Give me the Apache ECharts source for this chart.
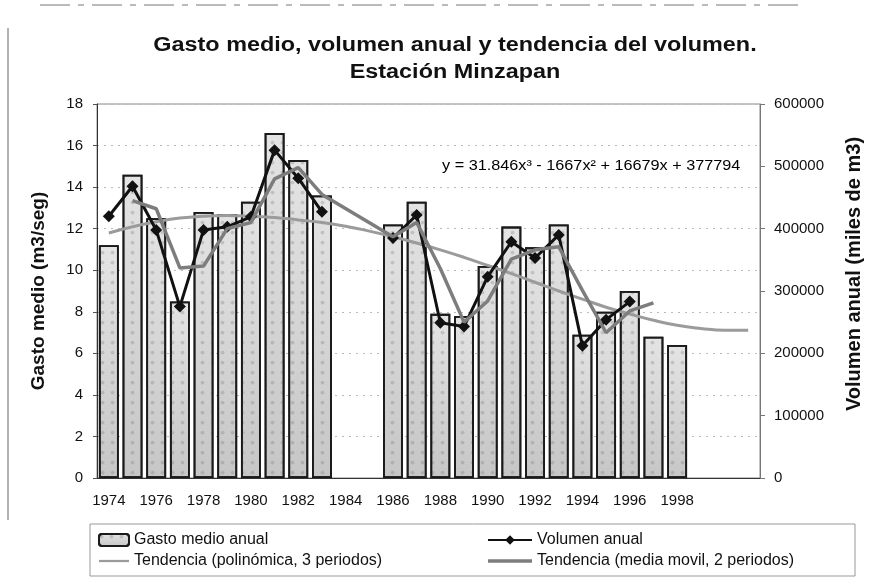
<!DOCTYPE html>
<html>
<head>
<meta charset="utf-8">
<script src="https://cdn.jsdelivr.net/npm/echarts@6/dist/echarts.min.js"></script>
<style>
  html, body { margin: 0; padding: 0; background: #fff; }
  #chart { width: 885px; height: 586px; }
</style>
</head>
<body>
<div id="chart"></div>
<script>
var dom = document.getElementById("chart");
var myChart = echarts.init(dom);

// years 1974..2001 (the polynomial trend runs 3 periods past the data)
var years = ['1974', '1975', '1976', '1977', '1978', '1979', '1980', '1981', '1982', '1983',
    '1984', '1985', '1986', '1987', '1988', '1989', '1990', '1991', '1992', '1993',
    '1994', '1995', '1996', '1997', '1998', '1999', '2000', '2001'];

// Gasto medio anual (m3/seg)
var gastoMedio = [11.2, 14.6, 12.5, 8.5, 12.8, 12.7, 13.3, 16.6, 15.3, 13.6,
    null, null, 12.2, 13.3, 7.9, 7.8, 10.2, 12.1, 11.1, 12.2,
    6.9, 8.0, 9.0, 6.8, 6.4, null, null, null];

// Volumen anual (miles de m3)
var volumen = [420000, 468000, 398000, 275000, 398000, 403000, 419000, 526000, 481000, 427000,
    null, null, 385000, 422000, 249000, 243000, 323000, 379000, 353000, 390000,
    212000, 254000, 283000, null, null, null, null, null];

// Tendencia (media movil, 2 periodos)
var mediaMovil = [null, 445000, 432000, 337000, 340000, 400000, 410000, 480000, 498000, 455000,
    null, null, 387000, 410000, 336000, 250000, 284000, 351000, 366000, 371000,
    301000, 233000, 268000, 281000, null, null, null, null];

// Tendencia (polinomica, 3 periodos)
var tendPoli = [393000, 403000, 411000, 417000, 420000, 421000, 420000, 418000, 414000, 410000,
    404000, 396000, 387000, 377000, 366000, 354000, 341000, 328000, 314000, 300000,
    287000, 274000, 263000, 253000, 245000, 240000, 237000, 237000];

var leftTicks = { min: 0, max: 18, interval: 2 };
var rightTicks = { min: 0, max: 600000, interval: 100000 };

var FONT = '"Liberation Sans", Arial, sans-serif';
var lineIcon = 'path://M0,0 L40,0 L40,3 L0,3 Z';

var option = {
    animation: false,
    backgroundColor: '#fff',
    legend: [{
        data: [
            { name: 'Gasto medio anual' },
            { name: 'Tendencia (polinómica, 3 periodos)', icon: lineIcon, itemStyle: { color: '#9b9b9b' } }
        ],
        orient: 'vertical',
        left: 93,
        top: 527,
        itemGap: 5,
        itemWidth: 30,
        itemHeight: 12,
        textStyle: { fontFamily: FONT, fontSize: 16, color: '#111' }
    }, {
        data: [
            { name: 'Volumen anual' },
            { name: 'Tendencia (media movil, 2 periodos)', icon: lineIcon, itemStyle: { color: '#7d7d7d' } }
        ],
        orient: 'vertical',
        left: 482,
        top: 527,
        itemGap: 5,
        itemWidth: 44,
        itemHeight: 12,
        textStyle: { fontFamily: FONT, fontSize: 16, color: '#111' }
    }],
    grid: {
        left: 97,
        right: 125,
        top: 104,
        bottom: 108,
        show: true,
        borderColor: '#888',
        borderWidth: 1
    },
    xAxis: {
        type: 'category',
        data: years,
        axisLine: { lineStyle: { color: '#333', width: 1 } },
        axisTick: { interval: 0, length: 4, lineStyle: { color: '#555' } },
        axisLabel: {
            interval: 1,
            margin: 15,
            fontFamily: FONT,
            fontSize: 15,
            color: '#111',
            formatter: function (v) { return +v <= 1998 ? v : ''; }
        }
    },
    yAxis: [{
        type: 'value',
        min: leftTicks.min,
        max: leftTicks.max,
        interval: leftTicks.interval,
        name: 'Gasto medio (m3/seg)',
        nameLocation: 'middle',
        nameGap: 49,
        nameTextStyle: { fontFamily: FONT, fontSize: 19, fontWeight: 'bold', color: '#111' },
        axisLine: { show: true, lineStyle: { color: '#333' } },
        axisTick: { show: true, inside: false, length: 4, lineStyle: { color: '#555' } },
        axisLabel: { margin: 14, fontFamily: FONT, fontSize: 15, color: '#111' },
        splitLine: { show: true, lineStyle: { color: '#bbb', type: [2, 5] } }
    }, {
        type: 'value',
        position: 'right',
        min: rightTicks.min,
        max: rightTicks.max,
        interval: rightTicks.interval,
        name: 'Volumen anual (miles de m3)',
        nameLocation: 'middle',
        nameRotate: 90,
        nameGap: 84,
        nameTextStyle: {
            fontFamily: FONT, fontSize: 20, fontWeight: 'bold', color: '#111',
            padding: [0, 0, 0, 34]
        },
        axisLine: { show: true, lineStyle: { color: '#777' } },
        axisTick: { show: true, length: 5, lineStyle: { color: '#777' } },
        axisLabel: {
            margin: 14, fontFamily: FONT, fontSize: 15, color: '#111',
            formatter: function (v) { return String(v); }
        },
        splitLine: { show: false }
    }],
    series: [{
        name: 'Gasto medio anual',
        type: 'bar',
        yAxisIndex: 0,
        data: gastoMedio,
        barCategoryGap: '16%',
        itemStyle: {
            color: {
                type: 'linear', x: 0, y: 0, x2: 0, y2: 1,
                colorStops: [{ offset: 0, color: '#e4e4e4' }, { offset: 1, color: '#c6c6c6' }]
            },
            borderColor: '#1a1a1a',
            borderWidth: 1.8,
            decal: {
                symbol: 'circle',
                symbolSize: 0.75,
                color: 'rgba(120,120,120,0.3)',
                dashArrayX: 5,
                dashArrayY: 5
            }
        },
        z: 1
    }, {
        name: 'Tendencia (polinómica, 3 periodos)',
        type: 'line',
        yAxisIndex: 1,
        data: tendPoli,
        smooth: true,
        symbol: 'none',
        lineStyle: { color: '#9b9b9b', width: 3 },
        itemStyle: { color: '#9b9b9b' },
        z: 3
    }, {
        name: 'Volumen anual',
        type: 'line',
        yAxisIndex: 1,
        data: volumen,
        symbol: 'diamond',
        symbolSize: 12,
        connectNulls: false,
        lineStyle: { color: '#111', width: 3 },
        itemStyle: { color: '#111' },
        z: 4
    }, {
        name: 'Tendencia (media movil, 2 periodos)',
        type: 'line',
        yAxisIndex: 1,
        data: mediaMovil,
        connectNulls: true,
        symbol: 'none',
        lineStyle: { color: '#7d7d7d', width: 3.5 },
        itemStyle: { color: '#7d7d7d' },
        z: 5
    }],
    graphic: [{
        type: 'text',
        x: 455,
        y: 32,
        scaleX: 1.17,
        style: {
            text: 'Gasto medio, volumen anual y tendencia del volumen.\nEstación Minzapan',
            font: 'bold 20px "Liberation Sans", Arial, sans-serif',
            lineHeight: 27,
            align: 'center',
            fill: '#111'
        }
    }, {
        type: 'text',
        x: 442,
        y: 159,
        scaleX: 1.16,
        style: {
            text: 'y = 31.846x³ - 1667x² + 16679x + 377794',
            font: '14px "Liberation Sans", Arial, sans-serif',
            fill: '#000'
        }
    }, {
        type: 'rect',
        shape: { x: 90, y: 524, width: 765, height: 52 },
        style: { fill: 'none', stroke: '#999', lineWidth: 1 }
    }, {
        type: 'line',
        shape: { x1: 8, y1: 28, x2: 8, y2: 520 },
        style: { stroke: '#666', lineWidth: 1 }
    }, {
        type: 'line',
        shape: { x1: 40, y1: 5, x2: 800, y2: 5 },
        style: { stroke: '#777', lineWidth: 1, lineDash: [30, 8, 6, 8] }
    }]
};

if (option && typeof option === 'object') {
    myChart.setOption(option);
}
</script>
</body>
</html>
